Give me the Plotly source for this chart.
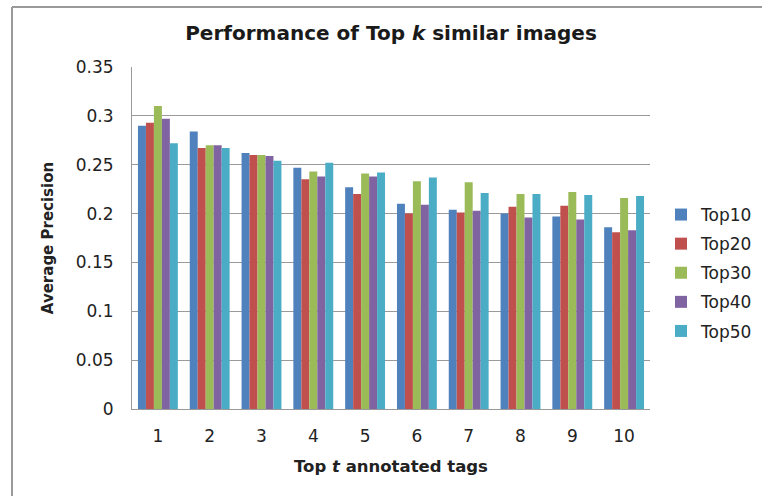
import plotly.graph_objects as go

# Number of top annotated tags (t)
tags = ["1", "2", "3", "4", "5", "6", "7", "8", "9", "10"]

# Average precision for each Top-k similar image setting
top10 = [0.290, 0.284, 0.262, 0.247, 0.227, 0.210, 0.204, 0.200, 0.197, 0.186]
top20 = [0.293, 0.267, 0.260, 0.235, 0.220, 0.200, 0.201, 0.207, 0.208, 0.181]
top30 = [0.310, 0.270, 0.260, 0.243, 0.241, 0.233, 0.232, 0.220, 0.222, 0.216]
top40 = [0.297, 0.270, 0.259, 0.238, 0.238, 0.209, 0.203, 0.196, 0.194, 0.183]
top50 = [0.272, 0.267, 0.254, 0.252, 0.242, 0.237, 0.221, 0.220, 0.219, 0.218]

series = [
    ("Top10", top10, "#4F81BD"),
    ("Top20", top20, "#C0504D"),
    ("Top30", top30, "#9BBB59"),
    ("Top40", top40, "#8064A2"),
    ("Top50", top50, "#4BACC6"),
]

FONT = "DejaVu Sans, Liberation Sans, Arial, sans-serif"

fig = go.Figure()
for name, vals, color in series:
    fig.add_trace(go.Bar(
        name=name, x=tags, y=vals, legendgroup=name,
        marker=dict(color=color, line=dict(width=0)),
    ))

W, H = 762, 496
L, R, T, B = 132, 650, 67, 409
pw, ph = R - L, B - T

def px_x(p):
    return (p - L) / pw

def px_y(p):
    return (B - p) / ph

# Outer chart-area frame (left and top edges)
frame = dict(color="#9a9a9a", width=2)
shapes = [
    dict(type="line", xref="paper", yref="paper",
         x0=px_x(12), x1=px_x(12), y0=px_y(7), y1=px_y(H + 10),
         line=frame, layer="below"),
    dict(type="line", xref="paper", yref="paper",
         x0=px_x(12), x1=px_x(W + 10), y0=px_y(7), y1=px_y(7),
         line=frame, layer="below"),
]

fig.update_layout(
    width=W, height=H,
    margin=dict(l=L, r=W - R, t=T, b=H - B, autoexpand=False),
    paper_bgcolor="white", plot_bgcolor="white",
    barmode="group", bargap=0.23, bargroupgap=0.0,
    font=dict(family=FONT, size=17, color="#222222"),
    title=dict(
        text="<b>Performance of Top <i>k</i> similar images</b>",
        x=0.5, xref="paper", xanchor="center",
        y=1 - 33 / H, yanchor="middle",
        font=dict(size=20, color="#1a1a1a"),
    ),
    xaxis=dict(
        showgrid=False, showline=True, linecolor="#999999", linewidth=1,
        ticks="", tickfont=dict(size=17),
        ticklabelstandoff=12,
        title=dict(text="<b>Top <i>t</i> annotated tags</b>",
                   font=dict(size=16.5), standoff=15),
    ),
    yaxis=dict(
        range=[0, 0.35], dtick=0.05, tick0=0,
        showgrid=True, gridcolor="#9a9a9a", gridwidth=1,
        showline=True, linecolor="#999999", linewidth=1,
        zeroline=False, ticks="", tickfont=dict(size=17),
        ticklabelstandoff=14,
        title=dict(text="<b>Average Precision</b>",
                   font=dict(size=15), standoff=18),
    ),
    legend=dict(
        x=px_x(661), xanchor="left",
        y=px_y(197), yanchor="top",
        font=dict(size=17), tracegroupgap=4,
        itemwidth=30, bgcolor="rgba(0,0,0,0)",
    ),
    shapes=shapes,
)

fig.write_html("out.html", config={"displayModeBar": False})
